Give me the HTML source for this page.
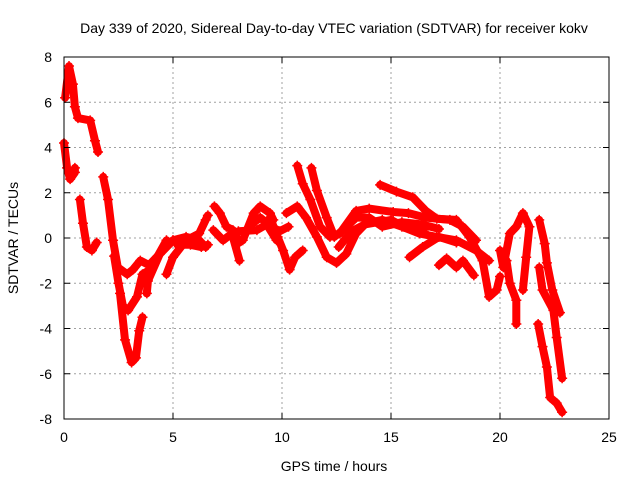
<!DOCTYPE html>
<html><head><meta charset="utf-8"><style>
html,body{margin:0;padding:0;background:#fff}
svg{display:block;font-family:"Liberation Sans",sans-serif}
</style></head><body>
<svg id="chart" width="640" height="480" viewBox="0 0 640 480">
<rect width="640" height="480" fill="#fff"/>
<text x="334" y="33" font-size="14" text-anchor="middle">Day 339 of 2020, Sidereal Day-to-day VTEC variation (SDTVAR) for receiver kokv</text>
<text x="334" y="471" font-size="14" text-anchor="middle">GPS time / hours</text>
<text transform="translate(18,238) rotate(-90)" font-size="14" text-anchor="middle">SDTVAR / TECUs</text>
<g id="grid"></g>
<g id="marks"></g>
<g id="axes"></g>
</svg>
<script>
const xTicks=[0,5,10,15,20,25];
const yTicks=[-8,-6,-4,-2,0,2,4,6,8];
const trackA=[[0.05,6.2],[0.23,7.6],[0.41,6.8],[0.5,5.8],[0.64,5.3],[1.2,5.2],[1.42,4.3],[1.56,3.8]];
const trackB=[[0.0,4.2],[0.14,3.1],[0.28,2.6],[0.5,2.9],[0.5,3.1]];
const trackC=[[0.73,1.7],[0.87,0.65],[1.05,-0.4],[1.28,-0.55],[1.5,-0.2]];
const trackD=[[1.8,2.7],[2.02,1.7],[2.25,-0.1],[2.47,-1.3],[2.9,-1.6],[3.16,-1.4],[3.5,-1.0],[3.9,-1.2],[4.4,-0.7],[5.0,-0.1]];
const trackE=[[2.3,-0.8],[2.5,-2.0],[2.7,-3.0],[2.94,-3.2],[3.35,-2.6],[3.6,-1.6],[3.95,-1.4],[4.3,-0.8],[4.7,-0.1]];
const trackF=[[2.57,-2.45],[2.8,-4.5],[3.1,-5.5],[3.3,-5.3],[3.45,-4.1],[3.6,-3.5]];
const trackG=[[3.8,-2.45],[3.85,-1.9],[4.4,-0.7],[5.0,-0.1],[5.6,0.05],[6.2,-0.1],[6.5,-0.4]];
const trackH=[[4.7,-1.6],[5.0,-0.85],[5.6,-0.1],[6.2,0.2],[6.5,0.8],[6.6,1.0]];
const trackH2=[[5.2,-0.3],[5.8,-0.3],[6.3,-0.4],[6.6,-0.3]];
const trackI=[[6.9,1.4],[7.15,1.1],[7.45,0.5],[7.75,0.35],[8.05,-0.2]];
const trackI2=[[6.85,0.35],[7.3,-0.1],[7.7,0.2],[8.05,-1.0]];
const trackJ=[[8.2,-0.1],[8.7,1.1],[9.0,1.4],[9.45,1.1],[9.6,0.8]];
const trackJ2=[[8.0,0.3],[8.85,0.35],[9.3,0.6],[9.75,-0.1]];
const trackJ3=[[8.6,0.6],[9.0,0.9],[9.5,0.5],[9.9,0.3],[10.3,0.5]];
const trackK=[[9.45,0.9],[9.8,0.05],[10.05,-0.55],[10.35,-1.4],[10.6,-0.85],[10.95,-0.55]];
const trackL=[[10.2,1.1],[10.7,1.4],[11.1,0.9],[11.6,0.05],[12.05,-0.85],[12.5,-1.1],[12.95,-0.7],[13.4,0.2],[13.85,0.65],[14.6,0.8],[15.5,0.5],[16.3,0.2],[17.1,0.05],[18.0,-0.1],[18.9,-0.55],[19.5,-1.0]];
const trackM=[[10.7,3.2],[10.95,2.4],[11.3,1.7],[11.75,0.5],[12.2,0.05],[12.65,0.2],[13.4,1.2],[14.0,1.3],[15.1,1.15],[15.8,1.1],[16.6,0.9],[17.7,0.8],[18.3,0.5],[18.9,-0.1]];
const trackN=[[11.35,3.1],[11.6,2.1],[12.05,0.9],[12.4,0.05],[12.8,0.35],[13.4,0.9],[14.0,0.9],[14.6,0.5],[15.5,0.7],[16.4,0.6],[17.2,0.4]];
const trackN2=[[12.6,-0.4],[13.2,0.3],[13.8,0.6],[14.4,0.7],[15.0,0.8],[15.6,0.5],[16.5,0.3]];
const trackO=[[14.5,2.35],[15.25,2.05],[16.0,1.8],[16.6,1.2],[17.1,0.85],[18.0,0.8],[18.6,0.05],[19.2,-1.0],[19.5,-2.6],[19.85,-2.3],[20.0,-1.7]];
const trackP=[[15.85,-0.85],[16.45,-0.4],[17.2,0.05],[18.0,-0.2]];
const trackQ=[[17.2,-1.2],[17.55,-0.9],[18.0,-1.3],[18.3,-1.0],[18.8,-1.65]];
const trackR=[[20.0,-0.55],[20.15,-1.3],[20.45,0.2],[20.75,0.5],[21.05,1.1],[21.35,0.5],[21.2,-0.85],[21.05,-2.3]];
const trackS=[[20.3,-1.0],[20.45,-2.0],[20.75,-2.75],[20.75,-3.8]];
const trackT=[[21.8,0.8],[22.05,-0.25],[22.15,-1.1],[22.4,-2.3],[22.75,-3.3]];
const trackU=[[21.8,-1.3],[21.95,-2.3],[22.45,-3.2],[22.6,-4.4],[22.85,-6.2]];
const trackV=[[21.75,-3.8],[21.95,-4.8],[22.15,-5.7],[22.3,-7.05],[22.6,-7.3],[22.85,-7.7]];
const tracks=[trackA,trackB,trackC,trackD,trackE,trackF,trackG,trackH,trackH2,trackI,trackI2,trackJ,trackJ2,trackJ3,trackK,trackL,trackM,trackN,trackN2,trackO,trackP,trackQ,trackR,trackS,trackT,trackU,trackV];

const L=64,R=609,T=57,B=419,xMin=0,xMax=25,yMin=-8,yMax=8;
const xs=v=>L+(v-xMin)/(xMax-xMin)*(R-L);
const ys=v=>B-(v-yMin)/(yMax-yMin)*(B-T);
const NS='http://www.w3.org/2000/svg';
const grid=document.getElementById('grid'),axes=document.getElementById('axes'),marks=document.getElementById('marks');
function mk(tag,attrs,parent){const e=document.createElementNS(NS,tag);for(const k in attrs)e.setAttribute(k,attrs[k]);parent.appendChild(e);return e;}

xTicks.forEach(t=>{
  const x=xs(t);
  if(t>xMin&&t<xMax){const g=mk('line',{x1:x,y1:T,x2:x,y2:B,stroke:'#a0a0a0','stroke-dasharray':'2,3'},grid);
  
  }
  const a=mk('path',{d:`M${x},${B}v-6M${x},${T}v6`,stroke:'#000'},axes);
  
  
  const lb=mk('text',{x:x,y:B+23,'font-size':14,'text-anchor':'middle'},axes);lb.textContent=t;
  
  
});
yTicks.forEach(t=>{
  const y=ys(t);
  if(t>yMin&&t<yMax){const g=mk('line',{x1:L,y1:y,x2:R,y2:y,stroke:'#a0a0a0','stroke-dasharray':'2,3'},grid);
  
  }
  const a=mk('path',{d:`M${L},${y}h6M${R},${y}h-6`,stroke:'#000'},axes);
  
  
  const lb=mk('text',{x:L-12,y:y+5,'font-size':14,'text-anchor':'end'},axes);lb.textContent=t;
  
  
});
const fr=mk('rect',{x:L,y:T,width:R-L,height:B-T,fill:'none',stroke:'#000'},axes);



tracks.forEach(tr=>{
  const pts=tr.map(p=>xs(p[0]).toFixed(1)+','+ys(p[1]).toFixed(1)).join(' ');
  const pl=mk('polyline',{points:pts,fill:'none',stroke:'#ff0000','stroke-width':8,'stroke-linejoin':'round','stroke-linecap':'round'},marks);
  
  
  tr.forEach(p=>{
    const x=xs(p[0]),y=ys(p[1]);
    const m=mk('path',{d:`M${x-5},${y}h10M${x},${y-5}v10`,stroke:'#ff0000','stroke-width':1.5},marks);
    
    
  });
});
</script>
</body></html>
